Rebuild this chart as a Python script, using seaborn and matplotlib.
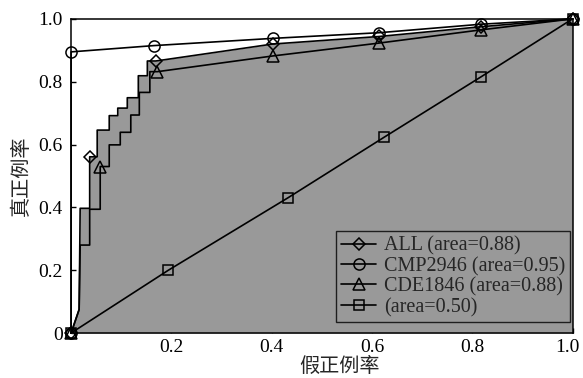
import matplotlib
matplotlib.use('Agg')
import matplotlib.pyplot as plt
from matplotlib.lines import Line2D
from matplotlib.transforms import ScaledTranslation
import seaborn as sns

# ROC curves (false positive rate, true positive rate)
all_fpr = [0, 0.016, 0.018, 0.037, 0.037, 0.052, 0.052, 0.076, 0.076, 0.093, 0.093,
           0.112, 0.112, 0.134, 0.134, 0.152, 0.152, 0.169, 0.402, 0.614, 0.817, 1.0]
all_tpr = [0, 0.075, 0.397, 0.397, 0.561, 0.561, 0.646, 0.646, 0.692, 0.692, 0.716,
           0.716, 0.749, 0.749, 0.819, 0.819, 0.866, 0.866, 0.920, 0.944, 0.975, 1.0]
all_marks = [0, 4, 17, 18, 19, 20, 21]

cmp_fpr = [0, 0, 0.165, 0.402, 0.614, 0.817, 1.0]
cmp_tpr = [0, 0.895, 0.915, 0.938, 0.956, 0.983, 1.0]
cmp_marks = [0, 1, 2, 3, 4, 5, 6]

cde_fpr = [0, 0.016, 0.018, 0.037, 0.037, 0.058, 0.058, 0.076, 0.076, 0.098, 0.098,
           0.119, 0.119, 0.136, 0.136, 0.157, 0.157, 0.172, 0.402, 0.614, 0.817, 1.0]
cde_tpr = [0, 0.075, 0.28, 0.28, 0.394, 0.394, 0.53, 0.53, 0.599, 0.599, 0.639,
           0.639, 0.694, 0.694, 0.766, 0.766, 0.832, 0.832, 0.882, 0.923, 0.965, 1.0]
cde_marks = [0, 6, 17, 18, 19, 20, 21]

rand_fpr = [0, 0.194, 0.432, 0.625, 0.817, 1.0]
rand_tpr = [0, 0.200, 0.430, 0.624, 0.815, 1.0]
rand_marks = [0, 1, 2, 3, 4, 5]

labels = ['ALL (area=0.88)', 'CMP2946 (area=0.95)', 'CDE1846 (area=0.88)', '(area=0.50)']
ticks_y = [0, 0.2, 0.4, 0.6, 0.8, 1.0]
ticklabels_y = ['0', '0.2', '0.4', '0.6', '0.8', '1.0']
ticks_x = [0.2, 0.4, 0.6, 0.8, 1.0]
ticklabels_x = ['0.2', '0.4', '0.6', '0.8', '1.0']

sns.set_style('ticks', {'xtick.direction': 'in', 'ytick.direction': 'in',
                        'axes.edgecolor': 'black'})
plt.rcParams['font.family'] = ['Liberation Serif', 'Noto Sans CJK SC']
plt.rcParams['font.size'] = 13

fig, ax = plt.subplots(figsize=(5.83, 3.78), dpi=100)
fig.subplots_adjust(left=0.122, right=0.982, bottom=0.119, top=0.95)

# shaded area under the ALL curve
ax.fill_between(all_fpr, all_tpr, 0, color='#999999', lw=0, zorder=1)

curves = [
    (all_fpr, all_tpr, all_marks, 'D', 6.5),
    (cmp_fpr, cmp_tpr, cmp_marks, 'o', 8),
    (cde_fpr, cde_tpr, cde_marks, '^', 8.5),
    (rand_fpr, rand_tpr, rand_marks, 's', 7),
]
handles = []
for (fpr, tpr, marks, m, ms), lab in zip(curves, labels):
    sns.lineplot(x=fpr, y=tpr, sort=False, estimator=None, ax=ax, color='black',
                 lw=1.2, marker=m, markevery=marks, markersize=ms,
                 markerfacecolor='none', markeredgecolor='black',
                 markeredgewidth=1.1, clip_on=False, legend=False, zorder=3)
    handles.append(Line2D([], [], color='black', lw=1.2, marker=m, markersize=ms,
                          markerfacecolor='none', markeredgecolor='black',
                          markeredgewidth=1.1))

ax.set_xlim(0, 1)
ax.set_ylim(0, 1)
ax.set_xticks(ticks_x)
ax.set_xticklabels(ticklabels_x)
ax.set_yticks(ticks_y)
ax.set_yticklabels(ticklabels_y)
ax.tick_params(direction='in', length=3.5, width=1, labelsize=14, colors='black')
ax.tick_params(axis='y', pad=6)
ax.tick_params(axis='x', pad=4)
for sp in ax.spines.values():
    sp.set_linewidth(1.1)
    sp.set_color('black')

# keep the last x tick label inside the figure
last = ax.get_xticklabels()[-1]
last.set_transform(last.get_transform() + ScaledTranslation(-4 / 72, 0, fig.dpi_scale_trans))

ax.set_xlabel('假正例率', fontsize=14.5)
ax.set_ylabel('真正例率', fontsize=14.5)
ax.xaxis.set_label_coords(0.536, -0.078)
ax.yaxis.set_label_coords(-0.078, 0.5)

leg = ax.legend(handles, labels, loc='lower right', bbox_to_anchor=(0.995, 0.035),
                borderaxespad=0, fancybox=False, frameon=True, facecolor='none',
                edgecolor='black', framealpha=None, fontsize=14.5,
                handlelength=1.7, handletextpad=0.4, labelspacing=0.06, borderpad=0.25)
leg.get_frame().set_linewidth(1.0)

plt.savefig('out.png', dpi=100)
